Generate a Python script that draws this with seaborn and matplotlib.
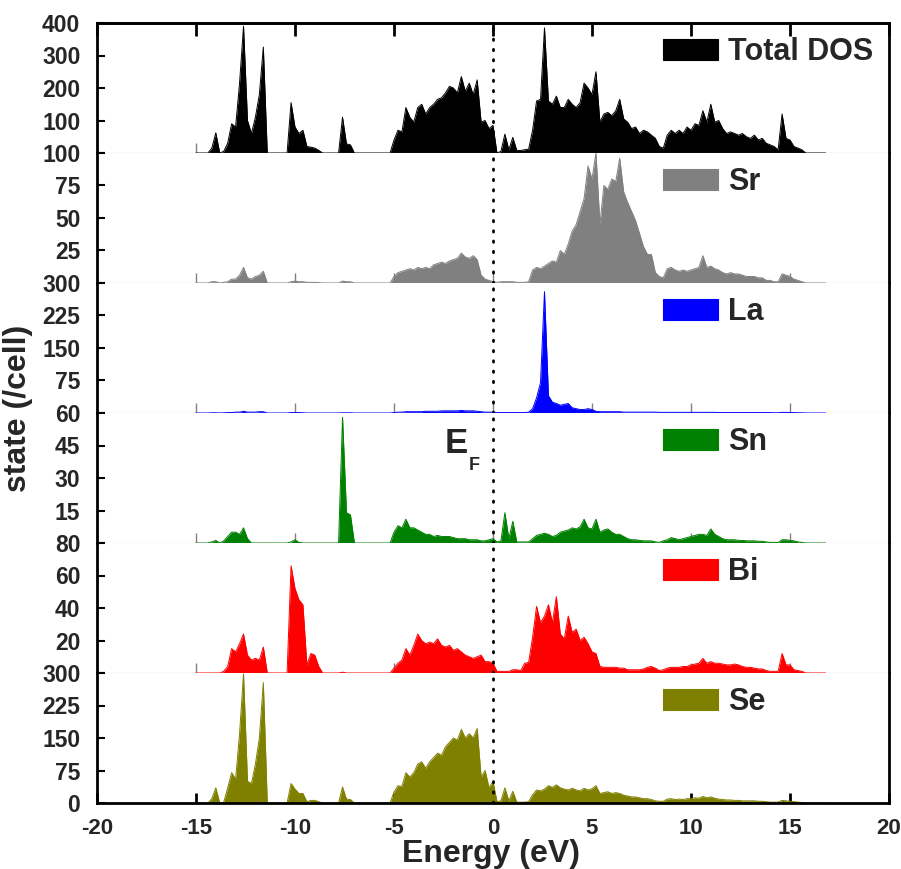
import numpy as np
import matplotlib
matplotlib.use("Agg")
import matplotlib.pyplot as plt
from matplotlib.patches import Rectangle
import seaborn as sns

# Energy grid (eV), 0.2 eV spacing
energy = -15.0 + 0.2 * np.arange(160)

# Projected densities of states (states/cell), one row = 2 eV
total_dos = [
    0, 0, 0, 0, 15, 62, 0, 5, 30, 90,
    80, 215, 390, 100, 60, 110, 180, 326, 0, 0,
    0, 0, 0, 0, 155, 80, 60, 70, 20, 18,
    15, 8, 0, 0, 0, 0, 0, 110, 28, 25,
    0, 0, 0, 0, 0, 0, 0, 0, 0, 0,
    40, 70, 65, 140, 110, 95, 140, 150, 120, 140,
    150, 165, 170, 185, 205, 200, 185, 235, 190, 215,
    180, 225, 95, 100, 75, 85, 0, 5, 58, 10,
    48, 8, 8, 10, 12, 70, 160, 165, 385, 160,
    150, 175, 140, 140, 165, 150, 140, 155, 215, 200,
    180, 250, 95, 120, 125, 115, 130, 165, 105, 95,
    75, 80, 60, 70, 65, 55, 45, 20, 15, 55,
    70, 60, 70, 60, 80, 70, 90, 85, 130, 95,
    150, 95, 100, 75, 60, 65, 60, 55, 60, 50,
    45, 55, 40, 45, 30, 25, 20, 10, 120, 45,
    40, 20, 15, 10, 0, 0, 0, 0, 0, 0,
]
sr_dos = [
    0, 0, 0, 0, 1, 1, 0, 0.5, 1, 3,
    3, 6, 12, 4, 3, 5, 6, 9, 0, 0,
    0, 0, 0, 0, 1, 1.5, 1, 1, 0.5, 0.5,
    0.5, 0.3, 0, 0, 0, 0, 0, 1.5, 1, 1,
    0, 0, 0, 0, 0, 0, 0, 0, 0, 0,
    5, 8, 9, 10, 11, 10, 12, 11, 12, 11,
    14, 15, 16, 15, 17, 18, 19, 23, 20, 19,
    21, 18, 6, 3, 2, 1, 0.5, 1, 1, 1,
    1, 0.5, 0.5, 0.5, 1, 10, 12, 11, 13, 15,
    17, 16, 25, 22, 30, 40, 45, 55, 65, 90,
    80, 100, 45, 75, 72, 80, 78, 96, 70, 62,
    55, 48, 38, 28, 22, 22, 8, 5, 4, 11,
    12, 10, 9, 10, 9, 10, 11, 12, 21, 12,
    13, 11, 10, 8, 7, 8, 7, 7, 6, 5,
    5, 5, 4, 4, 2, 2, 1, 1, 7, 6,
    5, 3, 2, 1, 0, 0, 0, 0, 0, 0,
]
la_dos = [
    0, 0, 0, 0, 0.5, 0.5, 0, 0.5, 1, 1,
    2, 2, 4, 2, 2, 2, 3, 3, 0, 0,
    0, 0, 0, 0, 1, 1, 1, 0.5, 0, 0,
    0, 0, 0, 0, 0, 0, 0, 0.5, 0.5, 0.5,
    0, 0, 0, 0, 0, 0, 0, 0, 0, 0,
    1, 2, 2, 3, 3, 3, 3, 3, 4, 4,
    4, 4, 5, 5, 5, 5, 5, 6, 5, 5,
    5, 4, 3, 2, 2, 2, 1, 1, 1, 1,
    1, 1, 1, 1, 2, 10, 35, 70, 280, 40,
    25, 22, 18, 20, 22, 12, 10, 8, 8, 10,
    8, 4, 3, 3, 3, 3, 3, 3, 2, 2,
    2, 2, 2, 2, 2, 2, 2, 1.5, 1.5, 1.5,
    1.5, 1.5, 1.5, 1.5, 1.5, 1.5, 1.5, 1.5, 1.5, 1.5,
    1.5, 1.5, 1, 1, 1, 1, 1, 1, 1, 1,
    1, 1, 1, 1, 1, 1, 0.5, 0.5, 1.5, 1.5,
    1, 1, 0.5, 0.5, 0, 0, 0, 0, 0, 0,
]
sn_dos = [
    0, 0, 0, 0, 0.5, 1.2, 0, 1, 3, 5,
    5, 4, 7, 2, 0, 0, 0, 0, 0, 0,
    0, 0, 0, 0, 0.5, 1.5, 0.3, 0, 0, 0,
    0, 0, 0, 0, 0, 0, 0, 58, 14, 13,
    0, 0, 0, 0, 0, 0, 0, 0, 0, 0,
    5, 8, 7, 11, 7, 7, 6, 5, 4, 4,
    3, 3.5, 3, 3, 3, 2.5, 2, 2, 2, 1.5,
    1.5, 1.5, 1, 1, 1.5, 2, 0.5, 1, 14, 2,
    10, 0.5, 0.5, 0.5, 0.5, 2, 3.5, 4, 4.5, 4,
    3, 3.5, 5, 5.5, 6, 7, 6.5, 7.5, 11, 7,
    6.5, 11, 5, 6, 6.5, 5, 4, 4, 3, 2,
    1.5, 1.5, 1.2, 1, 1, 1, 0.5, 0.3, 1, 1.5,
    2.5, 2, 1.5, 2, 2.5, 3, 3.5, 4, 4, 3.5,
    6.5, 4, 3, 2, 1.5, 1.5, 1.5, 1.2, 1.2, 1,
    1, 1, 0.8, 0.8, 0.5, 0.3, 0.3, 0.2, 1.5, 1.5,
    1.2, 1, 0.5, 0.3, 0, 0, 0, 0, 0, 0,
]
bi_dos = [
    0, 0, 0, 0, 0, 0, 0, 1, 4, 15,
    13, 18, 24, 11, 8, 9, 8, 16, 0, 0,
    0, 0, 0, 0, 66, 52, 45, 42, 5, 12,
    11, 4, 0, 0, 0, 0, 0, 0.5, 0, 0,
    0, 0, 0, 0, 0, 0, 0, 0, 0, 0,
    3, 6, 8, 15, 11, 17, 24, 20, 18, 19,
    18, 21, 17, 16, 17, 14, 15, 13, 11, 10,
    9, 10, 11, 7, 7, 6, 1, 1, 1, 1,
    2, 2, 1.5, 6, 6.5, 22, 41, 31, 35, 42,
    31, 47, 24, 21, 35, 25, 27, 20, 22, 18,
    13, 12, 4, 3.5, 3.5, 3.5, 3.5, 3, 3, 2,
    2, 2, 2, 2.5, 3.5, 4, 3, 1.5, 2, 3,
    3.5, 3.5, 3.5, 4, 4, 5, 5.5, 6, 9, 6,
    7, 6, 6, 5.5, 5, 5, 5.5, 5, 4, 3.5,
    3.5, 3, 2.5, 2.5, 1.5, 1, 1, 1, 12, 5,
    5, 2, 1.5, 1, 0, 0, 0, 0, 0, 0,
]
se_dos = [
    0, 0, 0, 0, 10, 35, 0, 2, 35, 70,
    55, 160, 298, 50, 45, 90, 150, 278, 0, 0,
    0, 0, 0, 0, 45, 32, 22, 22, 3, 6,
    6, 3, 0, 0, 0, 0, 0, 37, 9, 8,
    0, 0, 0, 0, 0, 0, 0, 0, 0, 0,
    25, 40, 38, 70, 60, 70, 90, 95, 80, 95,
    105, 115, 110, 130, 140, 150, 145, 170, 150, 160,
    150, 172, 60, 75, 35, 50, 3, 5, 35, 5,
    27, 2, 2, 2, 3, 19, 30, 28, 32, 40,
    36, 42, 35, 32, 30, 34, 30, 28, 34, 30,
    33, 40, 22, 24, 26, 22, 24, 22, 18, 16,
    14, 14, 12, 10, 10, 8, 5, 4, 4, 9,
    10, 8, 9, 8, 10, 10, 12, 11, 15, 12,
    14, 11, 9, 8, 7, 7, 6, 6, 5, 5,
    5, 5, 4, 4, 3, 2, 2, 2, 6, 5,
    4, 3, 2, 1, 0, 0, 0, 0, 0, 0,
]

panel_names = ["Total DOS", "Sr", "La", "Sn", "Bi", "Se"]
panel_series = [total_dos, sr_dos, la_dos, sn_dos, bi_dos, se_dos]
panel_colors = ["#000000", "#808080", "#0000FF", "#008000", "#FF0000", "#808000"]
panel_yticks = [
    [0, 100, 200, 300, 400],
    [0, 25, 50, 75, 100],
    [0, 75, 150, 225, 300],
    [0, 15, 30, 45, 60],
    [0, 20, 40, 60, 80],
    [0, 75, 150, 225, 300],
]
x_ticks = [-20, -15, -10, -5, 0, 5, 10, 15, 20]

sns.set_theme(style="ticks")
plt.rcParams["font.family"] = ["Liberation Sans", "DejaVu Sans"]
plt.rcParams["font.weight"] = "bold"
plt.rcParams["axes.unicode_minus"] = False

W, H = 901, 869
fig = plt.figure(figsize=(W / 100, H / 100), dpi=100)
fig.patch.set_facecolor("white")

left_px, right_px, top_px, panel_px = 97, 889, 23, 130
span_px = right_px - left_px
n = len(panel_names)
axes = []
for i, (name, vals, col, yt) in enumerate(zip(panel_names, panel_series, panel_colors, panel_yticks)):
    ax = fig.add_axes([left_px / W, 1 - (top_px + panel_px * (i + 1)) / H,
                       span_px / W, panel_px / H])
    ax.set_facecolor("white")
    y = np.asarray(vals, dtype=float)
    ax.fill_between(energy, 0, y, color=col, lw=0, zorder=2)
    sns.lineplot(x=energy, y=y, ax=ax, color=col, lw=0.7, zorder=3)
    ax.axvline(0, color="black", lw=2, ls=(0, (0.5, 3.2)),
               dash_capstyle="round", zorder=5)

    ax.set_xlim(-20, 20)
    ax.set_ylim(0, yt[-1])
    ax.set_xticks(x_ticks)
    ax.set_yticks(yt)
    last = i == n - 1
    ax.set_yticklabels([("" if (t == 0 and not last) else str(t)) for t in yt])
    ax.set_xlabel("")
    ax.set_ylabel("")

    for side in ("left", "right"):
        ax.spines[side].set_linewidth(2)
        ax.spines[side].set_color("black")
    ax.spines["top"].set_visible(i == 0)
    ax.spines["top"].set_linewidth(2)
    ax.spines["top"].set_color("black")
    if last:
        ax.spines["bottom"].set_linewidth(2)
        ax.spines["bottom"].set_color("black")
        ax.spines["bottom"].set_zorder(6)
        ax.tick_params(axis="x", direction="in", length=7, width=2, color="black",
                       labelsize=16, pad=11, labelbottom=True)
    else:
        ax.spines["bottom"].set_linewidth(0.8)
        ax.spines["bottom"].set_color("#9a9a9a")
        ax.tick_params(axis="x", direction="in", length=7, width=1, color="#8a7d7d",
                       labelbottom=False)
    ax.tick_params(axis="y", direction="in", length=6, width=1.5, color="black",
                   labelsize=16.5, pad=12, left=True, right=False)

    if i == 0:
        sec = ax.secondary_xaxis("top")
        sec.set_xticks(x_ticks)
        sec.tick_params(direction="in", length=9, width=2, color="black", labeltop=False)
        sec.spines["top"].set_linewidth(2)

    # legend key: coloured box followed by bold label
    box_x = (663 - left_px) / span_px
    box_w = 55 / span_px
    box_h = 21 / panel_px
    box_y = 1 - 37 / panel_px
    ax.add_patch(Rectangle((box_x, box_y), box_w, box_h, transform=ax.transAxes,
                           facecolor=col, edgecolor=col, lw=0.8, zorder=6))
    ax.text((728 - left_px) / span_px, box_y, name, transform=ax.transAxes,
            fontsize=22, fontweight="bold", ha="left", va="baseline", zorder=6)
    axes.append(ax)

# Fermi level label in the Sn panel
sn_ax = axes[3]
sn_ax.text(-2.46, 0.692, "E", transform=sn_ax.get_xaxis_transform(),
           fontsize=25, fontweight="bold", ha="left", va="baseline", zorder=6)
sn_ax.text(-1.24, 0.5615, "F", transform=sn_ax.get_xaxis_transform(),
           fontsize=13, fontweight="bold", ha="left", va="baseline", zorder=6)

fig.text(18 / W, 1 - 408 / H, "state (/cell)", rotation=90, ha="center", va="center",
         fontsize=23, fontweight="bold")
fig.text(491 / W, 1 - 854 / H, "Energy (eV)", ha="center", va="center",
         fontsize=23, fontweight="bold")

fig.savefig("out.png", dpi=100, facecolor="white")
